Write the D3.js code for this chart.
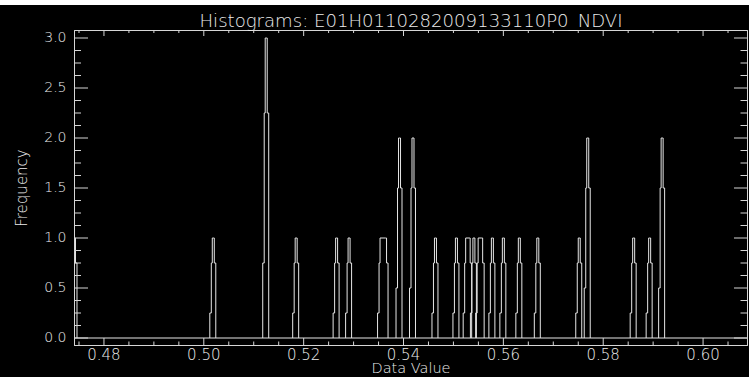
<!DOCTYPE html>
<html>
<head>
<meta charset="utf-8">
<script src="https://cdn.jsdelivr.net/npm/d3@7"></script>
<style>
  body { margin: 0; background: #fff; }
  text { font-family: "DejaVu Sans", "Liberation Sans", sans-serif; font-weight: 200; fill: #ececec; }
</style>
</head>
<body>
<div id="chart"></div>
<script>
// Histogram data
const titleText = "Histograms: E01H0110282009133110P0_NDVI";
const xTitle = "Data Value";
const yTitle = "Frequency";

// peak position (data value), frequency, and width of flat top (data units)
const peakValues = [0.4740, 0.5018, 0.5124, 0.5184, 0.5265, 0.5290, 0.53585, 0.5391, 0.5418,
                    0.5463, 0.5505, 0.5528, 0.5540, 0.5553, 0.5577, 0.5599, 0.5631, 0.5668,
                    0.5751, 0.5768, 0.5860, 0.5892, 0.5917];
const peakCounts = [1, 1, 3, 1, 1, 1, 1, 2, 2,
                    1, 1, 1, 1, 1, 1, 1, 1, 1,
                    1, 2, 1, 1, 2];
const peakSpans  = [0, 0, 0, 0, 0, 0, 0.0009, 0, 0,
                    0, 0, 0.0005, 0, 0.0005, 0, 0, 0, 0,
                    0, 0, 0, 0, 0];

const xTicks = [0.48, 0.50, 0.52, 0.54, 0.56, 0.58, 0.60];
const yTicks = [0.0, 0.5, 1.0, 1.5, 2.0, 2.5, 3.0];

const width = 749, height = 377;
const svg = d3.select("#chart").append("svg")
    .attr("width", width)
    .attr("height", height);

// black plotting window (white strip on top like the screenshot)
svg.append("rect").attr("x", 0).attr("y", 5).attr("width", width).attr("height", height - 5).attr("fill", "#000");

const x = d3.scaleLinear().domain([0.4741, 0.6089]).range([74, 747]);
const y = d3.scaleLinear().domain([-0.075, 3.075]).range([345, 30]);

const lineColor = "#e6e6e6";
const axisColor = "#d6d6d6";

svg.append("clipPath").attr("id", "plotclip")
  .append("rect").attr("x", 74.5).attr("y", 30.5).attr("width", 673).attr("height", 315);

const plot = svg.append("g").attr("clip-path", "url(#plotclip)");

const stepLine = d3.line().x(d => x(d[0]) + 0.5).y(d => y(d[1]) + 0.5);

// baseline of the histogram at zero
plot.append("path")
    .attr("d", stepLine([[x.domain()[0], 0], [x.domain()[1], 0]]))
    .attr("stroke", lineColor).attr("fill", "none");

// each peak drawn as a stepped spike (levels seen in the resampled plot)
const levels = [0.25, 0.75, 1];
const halfW = [0.0006, 0.0003, 0.0001];

const peaks = peakValues.map((v, i) => ({v: v, h: peakCounts[i], s: peakSpans[i]}));

plot.append("g").attr("class", "peaks")
  .selectAll("path")
  .data(peaks)
  .join("path")
    .attr("d", d => {
      const pts = [];
      const half = d.s / 2;
      pts.push([d.v - half - halfW[0], 0]);
      levels.forEach((l, k) => {
        pts.push([d.v - half - halfW[k], l * d.h]);
        if (k < levels.length - 1) pts.push([d.v - half - halfW[k + 1], l * d.h]);
      });
      for (let k = levels.length - 1; k >= 0; k--) {
        pts.push([d.v + half + halfW[k], levels[k] * d.h]);
        if (k > 0) pts.push([d.v + half + halfW[k - 1], levels[k] * d.h]);
      }
      pts.push([d.v + half + halfW[0], 0]);
      return stepLine(pts);
    })
    .attr("stroke", lineColor)
    .attr("stroke-width", 1)
    .attr("fill", "none");

// minor tick positions
const xMinor = d3.range(0.475, 0.6089, 0.005).filter(t => !xTicks.some(m => Math.abs(m - t) < 1e-6));
const yMinor = d3.range(0, 3.01, 0.125).filter(t => !yTicks.some(m => Math.abs(m - t) < 1e-6));

function styleAxis(g) {
  g.selectAll("path, line").attr("stroke", axisColor);
  g.selectAll("text").attr("fill", "#ececec");
}

// bottom axis
svg.append("g").attr("transform", "translate(0,345)")
  .call(d3.axisBottom(x).tickValues(xTicks).tickSizeInner(-7).tickSizeOuter(0).tickPadding(4).tickFormat(d3.format(".2f")))
  .call(g => g.selectAll("text").attr("font-size", 15).attr("font-family", null))
  .call(styleAxis);
svg.append("g").attr("transform", "translate(0,345)")
  .call(d3.axisBottom(x).tickValues(xMinor).tickSizeInner(-3.5).tickSizeOuter(0).tickFormat(""))
  .call(styleAxis);

// top axis
svg.append("g").attr("transform", "translate(0,30)")
  .call(d3.axisTop(x).tickValues(xTicks).tickSizeInner(-6).tickSizeOuter(0).tickFormat(""))
  .call(styleAxis);
svg.append("g").attr("transform", "translate(0,30)")
  .call(d3.axisTop(x).tickValues(xMinor).tickSizeInner(-3).tickSizeOuter(0).tickFormat(""))
  .call(styleAxis);

// left axis
svg.append("g").attr("transform", "translate(74,0)")
  .call(d3.axisLeft(y).tickValues(yTicks).tickSizeInner(-14).tickSizeOuter(0).tickPadding(7.5).tickFormat(d3.format(".1f")))
  .call(g => g.selectAll("text").attr("font-size", 14).attr("font-family", null))
  .call(styleAxis);
svg.append("g").attr("transform", "translate(74,0)")
  .call(d3.axisLeft(y).tickValues(yMinor).tickSizeInner(-7).tickSizeOuter(0).tickFormat(""))
  .call(styleAxis);

// right axis
svg.append("g").attr("transform", "translate(747,0)")
  .call(d3.axisRight(y).tickValues(yTicks).tickSizeInner(-13).tickSizeOuter(0).tickFormat(""))
  .call(styleAxis);
svg.append("g").attr("transform", "translate(747,0)")
  .call(d3.axisRight(y).tickValues(yMinor).tickSizeInner(-6.5).tickSizeOuter(0).tickFormat(""))
  .call(styleAxis);

// titles
svg.append("text")
    .attr("x", 411).attr("y", 27)
    .attr("text-anchor", "middle")
    .attr("font-size", 17)
    .attr("textLength", 423).attr("lengthAdjust", "spacingAndGlyphs")
    .text(titleText);

svg.append("text")
    .attr("x", 411).attr("y", 373)
    .attr("text-anchor", "middle")
    .attr("font-size", 14.5)
    .text(xTitle);

svg.append("text")
    .attr("transform", "translate(27,188) rotate(-90)")
    .attr("text-anchor", "middle")
    .attr("font-size", 15)
    .text(yTitle);
</script>
</body>
</html>
